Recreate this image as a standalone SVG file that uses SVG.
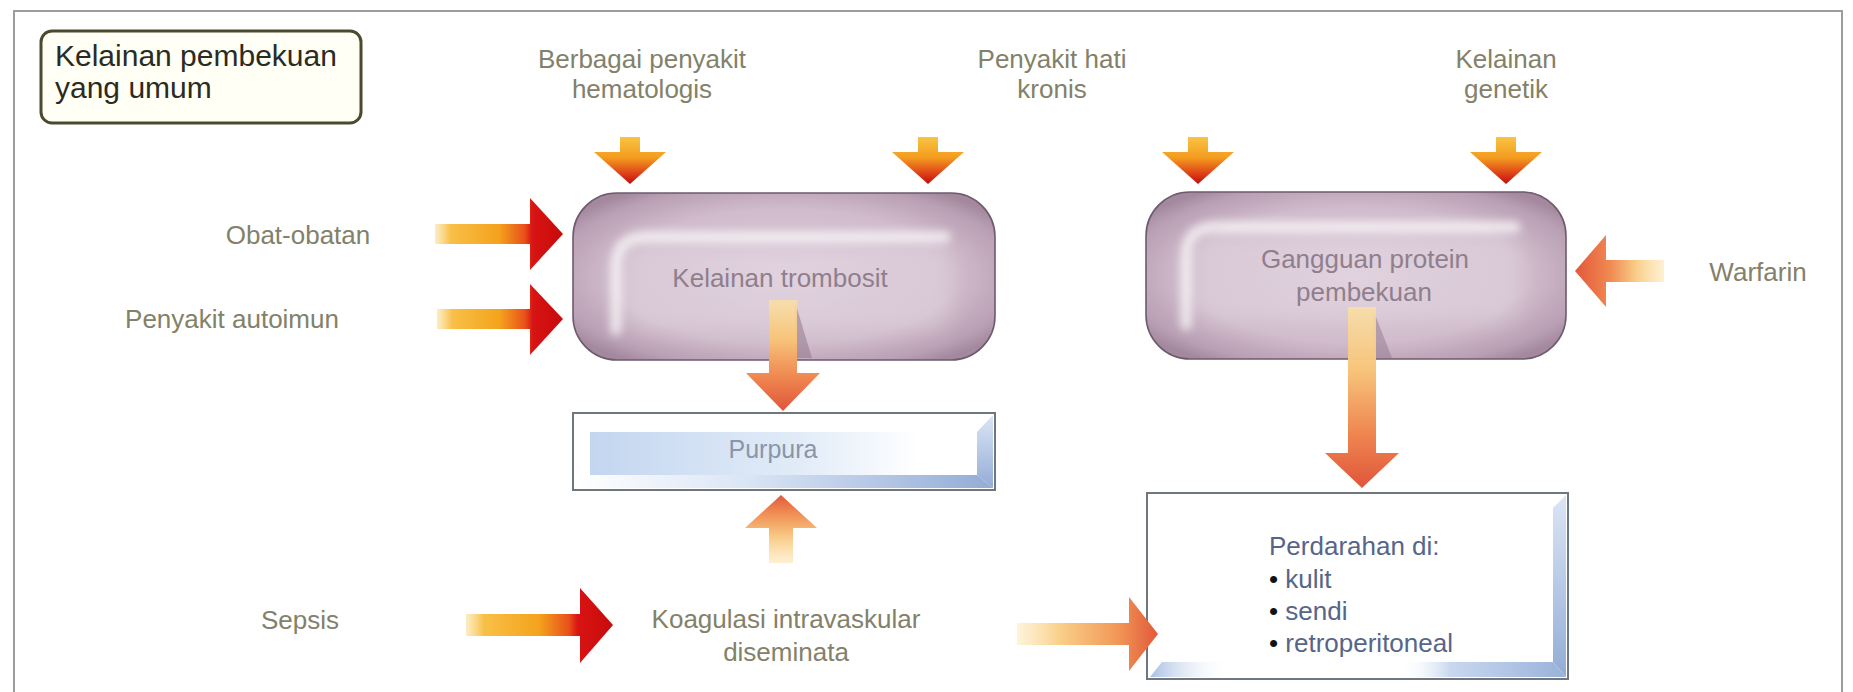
<svg xmlns="http://www.w3.org/2000/svg" width="1853" height="692" viewBox="0 0 1853 692">
  <defs>
    <style>
      .lbl { font-family: "Liberation Sans", Arial, sans-serif; font-size: 26px; fill: #838169; }
      .mid { text-anchor: middle; }
      .title { font-family: "Liberation Sans", Arial, sans-serif; font-size: 30px; fill: #2b2b22; }
      .boxtxt { font-family: "Liberation Sans", Arial, sans-serif; font-size: 26px; fill: #8f7f8d; text-anchor: middle; }
      .purtxt { font-family: "Liberation Sans", Arial, sans-serif; font-size: 25px; fill: #8a96a8; text-anchor: middle; }
      .bleed { font-family: "Liberation Sans", Arial, sans-serif; font-size: 26px; fill: #56658a; }
      .blob { stroke: #6f5b6d; stroke-width: 1.6; }
      .frame { fill: #ffffff; stroke: #70767e; stroke-width: 2; }
      .gloss { fill: none; stroke: #ffffff; stroke-width: 11; stroke-linecap: round; opacity: 0.7; }
    </style>

    <!-- strong arrows: pale tail, orange body, red head -->
    <linearGradient id="gHot" x1="0" y1="0" x2="1" y2="0">
      <stop offset="0" stop-color="#fbd98a" stop-opacity="0.5"/>
      <stop offset="0.12" stop-color="#f8c048"/>
      <stop offset="0.5" stop-color="#f4a21c"/>
      <stop offset="0.7" stop-color="#e8501a"/>
      <stop offset="0.76" stop-color="#d81414"/>
      <stop offset="1" stop-color="#c80a0a"/>
    </linearGradient>
    <linearGradient id="gHotDown" x1="0" y1="0" x2="0" y2="1">
      <stop offset="0" stop-color="#f9c444"/>
      <stop offset="0.45" stop-color="#f39a1e"/>
      <stop offset="0.75" stop-color="#e04818"/>
      <stop offset="1" stop-color="#c20c0c"/>
    </linearGradient>

    <!-- soft arrows: pale yellow to salmon red -->
    <linearGradient id="gSoftR" x1="0" y1="0" x2="1" y2="0">
      <stop offset="0" stop-color="#fde6b4" stop-opacity="0.5"/>
      <stop offset="0.3" stop-color="#f9d08a"/>
      <stop offset="0.7" stop-color="#f29a58"/>
      <stop offset="1" stop-color="#e2583a"/>
    </linearGradient>
    <linearGradient id="gSoftL" x1="1" y1="0" x2="0" y2="0">
      <stop offset="0" stop-color="#fde6b4" stop-opacity="0.6"/>
      <stop offset="0.3" stop-color="#f9d08a"/>
      <stop offset="0.6" stop-color="#f08a52"/>
      <stop offset="1" stop-color="#e2583a"/>
    </linearGradient>
    <linearGradient id="gSoftD" x1="0" y1="0" x2="0" y2="1">
      <stop offset="0" stop-color="#fbe0a4" stop-opacity="0.85"/>
      <stop offset="0.35" stop-color="#f7c47a"/>
      <stop offset="0.7" stop-color="#ef8650"/>
      <stop offset="1" stop-color="#e0553a"/>
    </linearGradient>
    <linearGradient id="gSoftU" x1="0" y1="1" x2="0" y2="0">
      <stop offset="0" stop-color="#fde6b4" stop-opacity="0.6"/>
      <stop offset="0.4" stop-color="#f8c882"/>
      <stop offset="0.75" stop-color="#ef8a52"/>
      <stop offset="1" stop-color="#e2583a"/>
    </linearGradient>

    <!-- glossy mauve blobs -->
    <radialGradient id="gBlob" cx="0.5" cy="0.5" r="0.62">
      <stop offset="0" stop-color="#dac8d7"/>
      <stop offset="0.65" stop-color="#d0bccc"/>
      <stop offset="0.9" stop-color="#b99fb4"/>
      <stop offset="1" stop-color="#a3889e"/>
    </radialGradient>
    <filter id="soft" x="-10%" y="-20%" width="120%" height="140%">
      <feGaussianBlur stdDeviation="4"/>
    </filter>
    <filter id="haze" x="-10%" y="-20%" width="120%" height="140%">
      <feGaussianBlur stdDeviation="10"/>
    </filter>

    <!-- bevelled frames -->
    <linearGradient id="gPanel" x1="0" y1="0" x2="1" y2="0">
      <stop offset="0" stop-color="#c3d6f0"/>
      <stop offset="0.55" stop-color="#e2ecf8"/>
      <stop offset="0.85" stop-color="#ffffff"/>
    </linearGradient>
    <linearGradient id="gBevR" x1="0" y1="0" x2="0" y2="1">
      <stop offset="0" stop-color="#dbe6f5"/>
      <stop offset="1" stop-color="#93acd6"/>
    </linearGradient>
    <linearGradient id="gBevB" x1="0" y1="0" x2="1" y2="0">
      <stop offset="0" stop-color="#ffffff"/>
      <stop offset="0.4" stop-color="#dbe6f5"/>
      <stop offset="1" stop-color="#93acd6"/>
    </linearGradient>
    <linearGradient id="gBevB2" x1="0" y1="0" x2="1" y2="0">
      <stop offset="0" stop-color="#ffffff" stop-opacity="0"/>
      <stop offset="0.3" stop-color="#c9d8ef"/>
      <stop offset="1" stop-color="#9ab2da"/>
    </linearGradient>
    <linearGradient id="gBevBL" x1="0" y1="0" x2="1" y2="0">
      <stop offset="0" stop-color="#a8bfe3"/>
      <stop offset="1" stop-color="#ffffff" stop-opacity="0"/>
    </linearGradient>
  </defs>

  <rect width="1853" height="692" fill="#ffffff"/>
  <!-- outer border -->
  <path d="M14 700 L14 11 L1842 11 L1842 700" fill="none" stroke="#9c9c9c" stroke-width="2"/>

  <g id="title">
    <rect x="41" y="31" width="320" height="92" rx="11" fill="#fffff5" stroke="#4c4a2e" stroke-width="3"/>
    <text class="title" x="55" y="66">Kelainan pembekuan</text>
    <text class="title" x="55" y="98">yang umum</text>
  </g>

  <g id="hematologi">
    <text class="lbl mid" x="642" y="68">Berbagai penyakit</text>
    <text class="lbl mid" x="642" y="98">hematologis</text>
  </g>
  <g id="hati">
    <text class="lbl mid" x="1052" y="68">Penyakit hati</text>
    <text class="lbl mid" x="1052" y="98">kronis</text>
  </g>
  <g id="genetik">
    <text class="lbl mid" x="1506" y="68">Kelainan</text>
    <text class="lbl mid" x="1506" y="98">genetik</text>
  </g>
  <g id="obat">
    <text class="lbl mid" x="298" y="244">Obat-obatan</text>
  </g>
  <g id="autoimun">
    <text class="lbl mid" x="232" y="328">Penyakit autoimun</text>
  </g>
  <g id="warfarin">
    <text class="lbl mid" x="1758" y="281">Warfarin</text>
  </g>
  <g id="sepsis">
    <text class="lbl mid" x="300" y="629">Sepsis</text>
  </g>
  <g id="kid">
    <text class="lbl mid" x="786" y="628">Koagulasi intravaskular</text>
    <text class="lbl mid" x="786" y="661">diseminata</text>
  </g>

  <g id="trombosit">
    <rect class="blob" x="573" y="193" width="422" height="167" rx="44" fill="url(#gBlob)"/>
    <rect x="622" y="242" width="330" height="90" rx="26" fill="#ffffff" opacity="0.18" filter="url(#haze)"/>
    <path class="gloss" d="M616 330 L616 266 Q616 237 646 237 L945 237" filter="url(#soft)"/>
    <polygon points="795,302 812,358 795,358" fill="#8c7188" opacity="0.5"/>
    <text class="boxtxt" x="780" y="287">Kelainan trombosit</text>
  </g>

  <g id="protein">
    <rect class="blob" x="1146" y="192" width="420" height="167" rx="44" fill="url(#gBlob)"/>
    <rect x="1192" y="232" width="330" height="90" rx="26" fill="#ffffff" opacity="0.18" filter="url(#haze)"/>
    <path class="gloss" d="M1186 325 L1186 256 Q1186 227 1216 227 L1515 227" filter="url(#soft)"/>
    <polygon points="1374,312 1392,358 1374,358" fill="#8c7188" opacity="0.45"/>
    <text class="boxtxt" x="1365" y="268">Gangguan protein</text>
    <text class="boxtxt" x="1364" y="301">pembekuan</text>
  </g>

  <g id="purpura">
    <rect class="frame" x="573" y="413" width="422" height="77"/>
    <rect x="590" y="432" width="387" height="43" fill="url(#gPanel)"/>
    <polygon points="977,432 993,415 993,488 977,475" fill="url(#gBevR)"/>
    <polygon points="590,475 977,475 993,488 575,488" fill="url(#gBevB)"/>
    <text class="purtxt" x="773" y="458">Purpura</text>
  </g>

  <g id="perdarahan">
    <rect class="frame" x="1147" y="493" width="421" height="186"/>
    <polygon points="1553,508 1566,495 1566,677 1553,662" fill="url(#gBevR)"/>
    <polygon points="1400,662 1553,662 1566,677 1400,677" fill="url(#gBevB2)"/>
    <polygon points="1162,662 1230,662 1230,677 1150,677" fill="url(#gBevBL)"/>
    <text class="bleed" x="1269" y="555">Perdarahan di:</text>
    <text class="bleed" x="1269" y="588"><tspan fill="#111111">•</tspan> kulit</text>
    <text class="bleed" x="1269" y="620"><tspan fill="#111111">•</tspan> sendi</text>
    <text class="bleed" x="1269" y="652"><tspan fill="#111111">•</tspan> retroperitoneal</text>
  </g>

  <g id="connectors">
    <!-- causes into thrombocyte disorders -->
    <path d="M435,224 L530,224 L530,198 L563,234 L530,270 L530,244 L435,244 Z" fill="url(#gHot)"/>
    <path d="M437,309 L530,309 L530,284 L563,319 L530,355 L530,329 L437,329 Z" fill="url(#gHot)"/>
    <!-- sepsis into DIC -->
    <path d="M466,614 L580,614 L580,588 L613,625 L580,663 L580,636 L466,636 Z" fill="url(#gHot)"/>

    <!-- small downward inputs -->
    <path d="M620,137 L640,137 L640,152 L666,152 L630,184 L594,152 L620,152 Z" fill="url(#gHotDown)"/>
    <path d="M918,137 L938,137 L938,152 L964,152 L928,184 L892,152 L918,152 Z" fill="url(#gHotDown)"/>
    <path d="M1188,137 L1208,137 L1208,152 L1234,152 L1198,184 L1162,152 L1188,152 Z" fill="url(#gHotDown)"/>
    <path d="M1496,137 L1516,137 L1516,152 L1542,152 L1506,184 L1470,152 L1496,152 Z" fill="url(#gHotDown)"/>

    <!-- warfarin into protein disorders -->
    <path d="M1664,260 L1606,260 L1606,235 L1575,271 L1606,307 L1606,282 L1664,282 Z" fill="url(#gSoftL)"/>

    <!-- thrombocyte disorders to purpura -->
    <path d="M769,300 L797,300 L797,373 L820,373 L783,411 L746,373 L769,373 Z" fill="url(#gSoftD)"/>
    <!-- DIC up to purpura -->
    <path d="M781,495 L817,528 L793,528 L793,563 L769,563 L769,528 L745,528 Z" fill="url(#gSoftU)"/>

    <!-- protein disorders down to bleeding -->
    <path d="M1348,307 L1376,307 L1376,453 L1399,453 L1362,488 L1325,453 L1348,453 Z" fill="url(#gSoftD)"/>
    <!-- DIC to bleeding -->
    <path d="M1017,623 L1129,623 L1129,597 L1158,634 L1129,671 L1129,645 L1017,645 Z" fill="url(#gSoftR)"/>
  </g>
</svg>
